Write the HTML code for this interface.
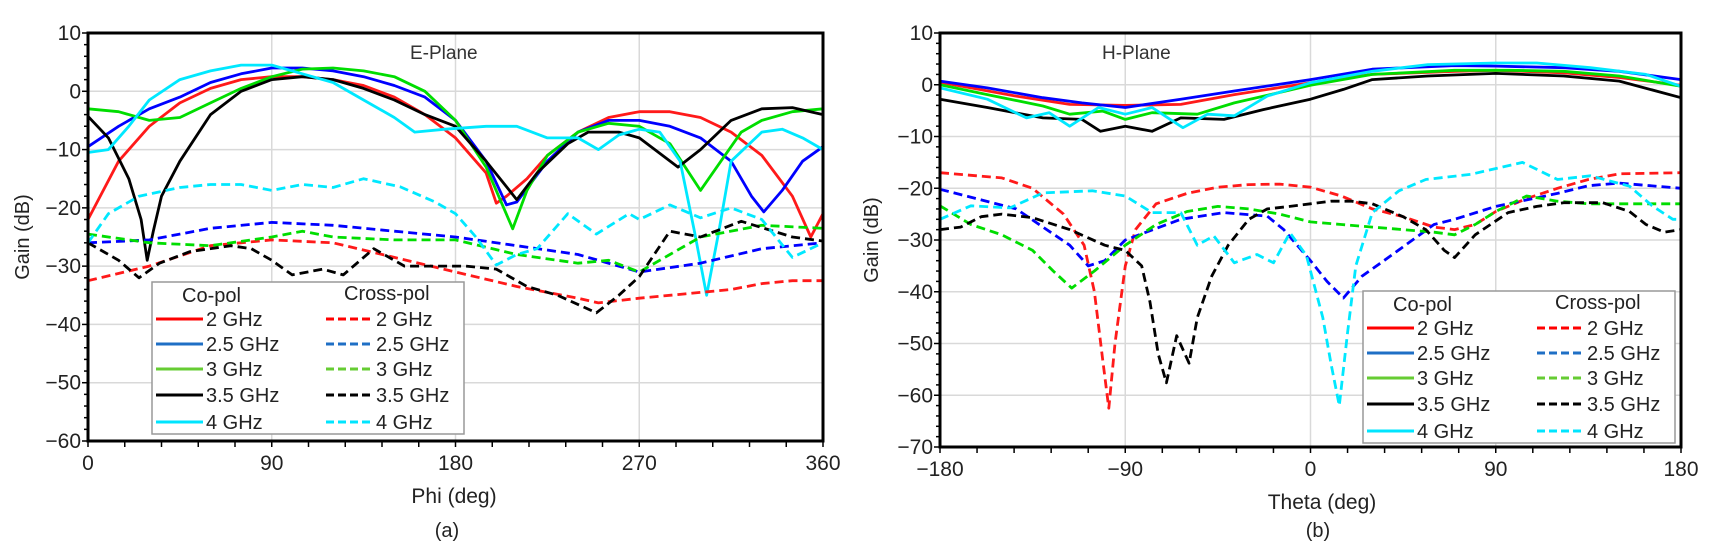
<!DOCTYPE html>
<html><head><meta charset="utf-8">
<style>
html,body{margin:0;padding:0;background:#fff;}
svg{display:block;font-family:"Liberation Sans",sans-serif;}
</style></head>
<body>
<svg id="fig" width="1711" height="559" viewBox="0 0 1711 559" xmlns="http://www.w3.org/2000/svg"></svg>
<script>
// ===== E-plane data (Phi deg, Gain dB) =====
const eCo2x=[0,15,30,45,60,75,90,105,120,135,150,165,180,195,200,205,215,225,240,255,270,285,300,315,330,345,354,360];
const eCo2y=[-22,-12,-6,-2,0.5,2,2.5,2.5,2,1,-1,-4,-8,-14,-19.2,-18,-15,-11,-7,-4.5,-3.5,-3.5,-4.5,-7,-11,-18,-25,-21];
const eCo25x=[0,15,30,45,60,75,90,105,120,135,150,165,180,195,205,210,225,240,255,270,285,300,315,325,331,340,350,360];
const eCo25y=[-9.5,-6,-3,-1,1.5,3,4,4,3.5,2.5,1,-1,-5,-12,-19.5,-19,-12,-7,-5,-5,-6,-8,-12,-18,-20.7,-17,-12,-9.5];
const eCo3x=[0,15,30,45,60,75,90,105,120,135,150,165,180,195,208,215,225,240,255,270,285,300,310,320,330,345,360];
const eCo3y=[-3,-3.5,-5,-4.5,-2,0.5,2.5,3.8,4,3.5,2.5,0,-5,-13,-23.6,-17,-11,-7,-5.5,-6,-9,-17,-12,-7,-5,-3.5,-3];
const eCo35x=[0,10,20,26,29,32,36,45,60,75,90,105,120,135,150,165,180,195,210,220,235,245,260,270,289,300,315,330,345,360];
const eCo35y=[-4.3,-8,-15,-22,-29,-24,-18,-12,-4,0,2,2.5,2,0.5,-1.5,-4,-6,-12,-18.6,-14,-9,-7,-7,-8,-13,-10,-5,-3,-2.8,-4];
const eCo4x=[0,10,20,30,45,60,75,90,105,120,135,150,160,175,195,210,225,240,250,260,270,280,290,297,303,309,315,330,340,350,360];
const eCo4y=[-10.5,-10,-6,-1.5,2,3.5,4.5,4.5,3,1.5,-1.5,-4.5,-7,-6.5,-6,-6,-8,-8,-10,-7.5,-6.5,-7,-12,-24,-35,-24,-12,-7,-6.5,-8,-10];
const eX2x=[0,30,60,90,120,150,180,210,240,250,270,300,315,330,345,360];
const eX2y=[-32.5,-30,-26.5,-25.5,-26,-28.5,-31,-33.5,-35.5,-36.3,-35.5,-34.5,-34,-33,-32.5,-32.5];
const eX25x=[0,30,60,90,120,150,180,210,240,270,300,330,360];
const eX25y=[-26,-25.5,-23.5,-22.5,-23,-24,-25,-26.5,-28,-31,-29.5,-27,-26];
const eX3x=[0,30,60,90,105,120,150,180,210,240,255,270,285,300,330,360];
const eX3y=[-24.5,-26,-26.5,-25,-24,-25,-25.5,-25.5,-28,-29.5,-29,-31,-28,-25,-23,-23.5];
const eX35x=[0,15,25,35,50,70,80,90,100,115,125,140,155,170,185,200,215,230,249,260,270,285,300,320,345,360];
const eX35y=[-26,-29,-32,-29.5,-27.5,-26.5,-27,-29,-31.5,-30.5,-31.5,-27,-30,-30,-30,-30.5,-33.5,-35,-38,-35,-31.8,-24,-25,-22.3,-25,-25.7];
const eX4x=[0,10,25,45,60,75,90,105,120,135,153,170,180,190,200,210,220,235,249,265,270,285,300,315,330,345,360];
const eX4y=[-26,-21,-18,-16.5,-16,-16,-17,-16,-16.5,-15,-16.4,-19,-21,-25,-29.8,-28,-27,-21,-24.5,-21,-22,-19.5,-21.7,-20,-22,-28.5,-26];
// ===== H-plane data (Theta deg, Gain dB) =====
const hCo2x=[-180,-143,-117,-90,-63,-37,0,30,70,90,123,150,180];
const hCo2y=[0.5,-2.2,-3.8,-4,-3.8,-1.9,0.4,2,2.6,2.8,2.3,1.4,-0.1];
const hCo25x=[-180,-157,-130,-111,-90,-63,-37,0,30,70,90,123,150,180];
const hCo25y=[0.7,-0.6,-2.5,-3.5,-4.4,-2.8,-1.2,1,3,3.7,3.6,3.3,2.6,1];
const hCo3x=[-180,-157,-130,-117,-101,-90,-77,-55,-37,0,30,70,97,123,150,180];
const hCo3y=[0,-1.9,-4.1,-5.7,-5.1,-6.7,-5.4,-5.7,-3.5,-0.1,2,2.8,2.8,2.6,1.7,-0.3];
const hCo35x=[-180,-157,-130,-111,-102,-90,-77,-63,-42,-23,0,16,30,57,90,123,150,180];
const hCo35y=[-2.8,-4.4,-6.4,-6.7,-9,-8,-9,-6.4,-6.7,-4.8,-2.8,-0.9,1,1.7,2.2,1.7,0.7,-2.5];
const hCo4x=[-180,-157,-138,-127,-117,-103,-90,-77,-62,-50,-37,-21,0,30,57,90,110,136,163,180];
const hCo4y=[-0.6,-2.8,-6.4,-5.4,-8,-4.4,-5.7,-4.4,-8.3,-5.7,-6,-2.2,0.4,2.6,3.9,4.2,4.2,3.3,2,-0.3];
const hX2x=[-180,-150,-135,-120,-110,-105,-101,-98,-95,-90,-85,-75,-60,-45,-30,-15,0,15,30,45,60,70,80,90,105,120,135,150,180];
const hX2y=[-17,-18,-20,-25,-31,-40,-53,-62.5,-50,-35,-28,-23,-21,-19.8,-19.3,-19.2,-19.8,-21.5,-24,-25.5,-27.5,-28,-27,-24.5,-22,-20,-18.3,-17.2,-17];
const hX25x=[-180,-143,-117,-108,-100,-90,-63,-42,-21,-13,0,8,16,25,36,60,70,90,120,135,150,165,180];
const hX25y=[-20.2,-24,-31,-35,-34,-30,-26,-24.7,-25.4,-28,-34,-38,-41.2,-37,-33.9,-27,-26,-23.5,-21,-19.5,-19,-19.5,-20];
const hX3x=[-180,-165,-150,-135,-125,-116,-105,-90,-75,-60,-45,-30,-15,0,15,30,45,60,70,80,90,105,120,135,150,180];
const hX3y=[-23.4,-27,-29,-32,-36,-39.3,-36,-31,-27,-24.5,-23.5,-24,-25,-26.5,-27,-27.5,-28,-28.5,-29,-27,-24.5,-21.5,-22.5,-23,-23,-23];
const hX35x=[-180,-170,-160,-150,-135,-117,-100,-90,-82,-78,-74,-70,-65,-59,-55,-48,-40,-30,-21,-10,0,10,20,30,45,56,65,70,80,96,110,123,142,155,163,172,180];
const hX35y=[-28,-27.5,-25.5,-25,-25.7,-28,-31,-32,-35,-42,-52,-57.6,-48.5,-53.8,-45,-37,-31,-26,-24,-23.5,-23,-22.5,-22.5,-23,-25.5,-28,-32,-33.4,-29,-24.7,-23.5,-22.8,-22.8,-24.5,-27,-28.5,-28];
const hX4x=[-180,-165,-146,-130,-106,-90,-77,-63,-55,-47,-37,-26,-18,-10,-2,6,10,14,18,22,30,43,56,78,103,120,136,155,166,176,180];
const hX4y=[-26,-23.4,-23.8,-20.9,-20.5,-21.5,-24.7,-24.7,-31,-29.2,-34.4,-32.8,-34.4,-28.6,-33,-45,-54,-62,-48,-35,-24.7,-20.5,-18.3,-17.3,-15,-18.3,-17.6,-19.6,-23.4,-26,-26];

const NS="http://www.w3.org/2000/svg";
const svg=document.getElementById('fig');
function mk(tag,attrs,parent,text){const e=document.createElementNS(NS,tag);for(const k in attrs)e.setAttribute(k,attrs[k]);if(text!==undefined)e.textContent=text;(parent||svg).appendChild(e);return e;}

function drawPlot(p){
  const g=mk('g',{});
  
  
  const sx=v=>p.x0+(v-p.xmin)/(p.xmax-p.xmin)*(p.x1-p.x0);
  const sy=v=>p.y0+(p.ymax-v)/(p.ymax-p.ymin)*(p.y1-p.y0);
  for(let v=p.ymin+10;v<p.ymax;v+=10){const l=mk('line',{x1:p.x0,x2:p.x1,y1:sy(v),y2:sy(v),stroke:'#d9d9d9','stroke-width':1.5},g);}
  for(let v=p.xmin+90;v<p.xmax;v+=90){const l=mk('line',{x1:sx(v),x2:sx(v),y1:p.y0,y2:p.y1,stroke:'#d9d9d9','stroke-width':1.5},g);}
  p.series.forEach(s=>{
    const pts=s.x.map((xv,i)=>sx(xv).toFixed(1)+','+sy(s.y[i]).toFixed(1)).join(' ');
    const pl=mk('polyline',{points:pts,fill:'none',stroke:s.c,'stroke-width':2.8,'stroke-linejoin':'round','stroke-dasharray':s.d?'9 5':'none'},g);
    
    
  });
  const fr=mk('rect',{x:p.x0,y:p.y0,width:p.x1-p.x0,height:p.y1-p.y0,fill:'none',stroke:'#000','stroke-width':3},g);
  
  
  for(let v=p.ymin;v<=p.ymax;v+=2){const maj=(v%10===0);mk('line',{x1:p.x0-(maj?6:4),x2:p.x0,y1:sy(v),y2:sy(v),stroke:'#000','stroke-width':1.5},g);}
  for(let v=p.xmin;v<=p.xmax+0.1;v+=18){mk('line',{x1:sx(v),x2:sx(v),y1:p.y1,y2:p.y1+6,stroke:'#000','stroke-width':1.5},g);}
  for(let v=p.ymin;v<=p.ymax;v+=10){const t=mk('text',{x:p.x0-7,y:sy(v)+7,'font-size':21,'text-anchor':'end',fill:'#222'},g,v<0?'\u2212'+(-v):String(v));}
  for(let v=p.xmin;v<=p.xmax;v+=90){const t=mk('text',{x:sx(v),y:p.y1+29,'font-size':21,'text-anchor':'middle',fill:'#222'},g,v<0?'\u2212'+(-v):String(v));}
  const tt=mk('text',{x:p.titleX,y:p.y0+26,'font-size':19,fill:'#333'},g,p.title);
  
  const yl=mk('text',{x:p.ylabX,y:(p.y0+p.y1)/2,'font-size':20,'text-anchor':'middle',fill:'#222',transform:'rotate(-90 '+p.ylabX+' '+(p.y0+p.y1)/2+')'},g,'Gain (dB)');
  
  const xl=mk('text',{x:p.xlabX,y:p.y1+62,'font-size':21,'text-anchor':'middle',fill:'#222'},g,p.xlab);
  
  const cap=mk('text',{x:p.capX,y:537,'font-size':20,'text-anchor':'middle',fill:'#222'},g,p.cap);
  
  const L=mk('g',{transform:'translate('+p.lx+','+p.ly+')'},g);
  
  mk('rect',{x:0,y:0,width:312,height:152,fill:'#fff',stroke:'#999','stroke-width':1.5},L);
  mk('text',{x:30,y:20,'font-size':20,fill:'#222'},L,'Co-pol');
  mk('text',{x:192,y:18,'font-size':20,fill:'#222'},L,'Cross-pol');
  const labs=['2 GHz','2.5 GHz','3 GHz','3.5 GHz','4 GHz'];
  const lc=['#ff0000','#1f6fc5','#66cc33','#000000','#00e5ff'];
  const ry=[37,62,87,113,140];
  labs.forEach((lab,i)=>{
    mk('line',{x1:4,x2:51,y1:ry[i],y2:ry[i],stroke:lc[i],'stroke-width':3},L);
    const a=mk('text',{x:54,y:ry[i]+7,'font-size':20,fill:'#222'},L,lab);
    
    mk('line',{x1:174,x2:220,y1:ry[i],y2:ry[i],stroke:lc[i],'stroke-width':3,'stroke-dasharray':'8 4'},L);
    const b=mk('text',{x:224,y:ry[i]+7,'font-size':20,fill:'#222'},L,lab);
    
  });
}
const R='#ff1a1a',B='#0000ff',G='#00dd00',K='#000000',C='#00e8ff';
drawPlot({name:'e-plane-chart',x0:88,x1:823,y0:33,y1:441,xmin:0,xmax:360,ymin:-60,ymax:10,
  title:'E-Plane',titleX:410,ylabX:29,xlab:'Phi (deg)',xlabX:454,cap:'(a)',capX:447,lx:152,ly:282,
  series:[
    {n:'e-co-2ghz',x:eCo2x,y:eCo2y,c:R},{n:'e-co-2-5ghz',x:eCo25x,y:eCo25y,c:B},{n:'e-co-3ghz',x:eCo3x,y:eCo3y,c:G},
    {n:'e-co-3-5ghz',x:eCo35x,y:eCo35y,c:K},{n:'e-co-4ghz',x:eCo4x,y:eCo4y,c:C},
    {n:'e-cross-2ghz',x:eX2x,y:eX2y,c:R,d:1},{n:'e-cross-2-5ghz',x:eX25x,y:eX25y,c:B,d:1},{n:'e-cross-3ghz',x:eX3x,y:eX3y,c:G,d:1},
    {n:'e-cross-3-5ghz',x:eX35x,y:eX35y,c:K,d:1},{n:'e-cross-4ghz',x:eX4x,y:eX4y,c:C,d:1}]});
drawPlot({name:'h-plane-chart',x0:940,x1:1681,y0:33,y1:447,xmin:-180,xmax:180,ymin:-70,ymax:10,
  title:'H-Plane',titleX:1102,ylabX:878,xlab:'Theta (deg)',xlabX:1322,cap:'(b)',capX:1318,lx:1363,ly:291,
  series:[
    {n:'h-co-2ghz',x:hCo2x,y:hCo2y,c:R},{n:'h-co-2-5ghz',x:hCo25x,y:hCo25y,c:B},{n:'h-co-3ghz',x:hCo3x,y:hCo3y,c:G},
    {n:'h-co-3-5ghz',x:hCo35x,y:hCo35y,c:K},{n:'h-co-4ghz',x:hCo4x,y:hCo4y,c:C},
    {n:'h-cross-2ghz',x:hX2x,y:hX2y,c:R,d:1},{n:'h-cross-2-5ghz',x:hX25x,y:hX25y,c:B,d:1},{n:'h-cross-3ghz',x:hX3x,y:hX3y,c:G,d:1},
    {n:'h-cross-3-5ghz',x:hX35x,y:hX35y,c:K,d:1},{n:'h-cross-4ghz',x:hX4x,y:hX4y,c:C,d:1}]});
</script>
</body></html>
